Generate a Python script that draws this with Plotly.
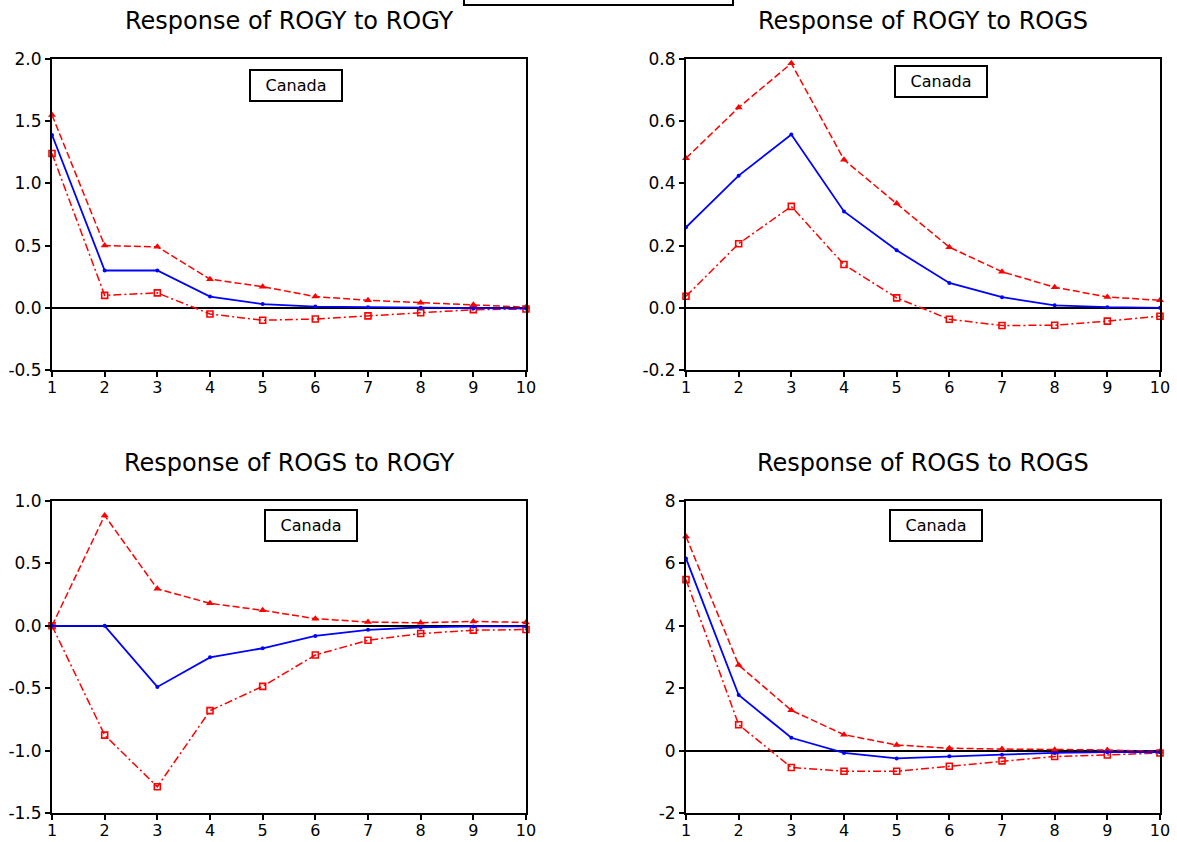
import plotly.graph_objects as go

# Impulse responses (Canada), periods 1..10
periods = list(range(1, 11))

# Response of ROGY to ROGY
rogy_rogy = [1.39, 0.30, 0.30, 0.09, 0.03, 0.01, 0.005, 0.0, -0.005, -0.005]
rogy_rogy_hi = [1.55, 0.50, 0.49, 0.23, 0.17, 0.09, 0.06, 0.04, 0.025, 0.005]
rogy_rogy_lo = [1.24, 0.10, 0.12, -0.05, -0.10, -0.09, -0.065, -0.04, -0.015, -0.01]

# Response of ROGY to ROGS
rogy_rogs = [0.259, 0.425, 0.557, 0.31, 0.185, 0.08, 0.034, 0.008, 0.002, 0.0]
rogy_rogs_hi = [0.481, 0.644, 0.786, 0.476, 0.335, 0.195, 0.116, 0.066, 0.035, 0.024]
rogy_rogs_lo = [0.037, 0.206, 0.326, 0.139, 0.032, -0.037, -0.057, -0.056, -0.043, -0.027]

# Response of ROGS to ROGY
rogs_rogy = [0.0, 0.0, -0.49, -0.253, -0.18, -0.081, -0.032, -0.013, -0.005, -0.005]
rogs_rogy_hi = [0.0, 0.884, 0.296, 0.18, 0.124, 0.057, 0.03, 0.024, 0.035, 0.027]
rogs_rogy_lo = [0.0, -0.876, -1.29, -0.68, -0.485, -0.234, -0.116, -0.062, -0.035, -0.03]

# Response of ROGS to ROGS
rogs_rogs = [6.16, 1.78, 0.41, -0.075, -0.25, -0.18, -0.13, -0.075, -0.05, -0.05]
rogs_rogs_hi = [6.86, 2.74, 1.29, 0.51, 0.18, 0.075, 0.05, 0.03, 0.02, -0.03]
rogs_rogs_lo = [5.48, 0.83, -0.54, -0.66, -0.66, -0.50, -0.33, -0.19, -0.14, -0.075]

titles = ["Response of ROGY to ROGY", "Response of ROGY to ROGS",
          "Response of ROGS to ROGY", "Response of ROGS to ROGS"]
country = "Canada"

y_ticks = [
    [-0.5, 0.0, 0.5, 1.0, 1.5, 2.0],
    [-0.2, 0.0, 0.2, 0.4, 0.6, 0.8],
    [-1.5, -1.0, -0.5, 0.0, 0.5, 1.0],
    [-2, 0, 2, 4, 6, 8],
]
y_tick_text = [
    [f"{v:.1f}" for v in y_ticks[0]],
    [f"{v:.1f}" for v in y_ticks[1]],
    [f"{v:.1f}" for v in y_ticks[2]],
    [f"{v:d}" for v in y_ticks[3]],
]

panels = [
    (rogy_rogy, rogy_rogy_hi, rogy_rogy_lo),
    (rogy_rogs, rogy_rogs_hi, rogy_rogs_lo),
    (rogs_rogy, rogs_rogy_hi, rogs_rogy_lo),
    (rogs_rogs, rogs_rogs_hi, rogs_rogs_lo),
]

W, H = 1177, 842


def px(x, y):
    """Pixel position -> paper coordinates."""
    return x / W, 1 - y / H


FONT = "DejaVu Sans, Verdana, sans-serif"

# Plot areas in pixels: (left, right, top, bottom)
boxes_px = [
    (52, 526, 59, 370),
    (686, 1160, 59, 370),
    (52, 526, 501, 813),
    (686, 1160, 501, 813),
]
# Label box centres in pixels
label_px = [(296, 85), (941, 82), (311, 525), (936, 525)]

fig = go.Figure()
layout = dict(
    width=W, height=H,
    margin=dict(l=0, r=0, t=0, b=0),
    paper_bgcolor="white", plot_bgcolor="white",
    showlegend=False,
    font=dict(family=FONT, color="black", size=16),
    annotations=[], shapes=[],
)

for i, ((mid, hi, lo), (l, r, t, b)) in enumerate(zip(panels, boxes_px)):
    n = i + 1
    xa = "x" if n == 1 else f"x{n}"
    ya = "y" if n == 1 else f"y{n}"
    fig.add_trace(go.Scatter(
        x=periods, y=hi, xaxis=xa, yaxis=ya, mode="lines+markers",
        line=dict(color="#ff0000", width=1.5, dash="7px,3px"),
        marker=dict(symbol="triangle-up", size=7, color="#ff0000"),
        cliponaxis=False))
    fig.add_trace(go.Scatter(
        x=periods, y=lo, xaxis=xa, yaxis=ya, mode="lines+markers",
        line=dict(color="#ff0000", width=1.5, dash="8px,3px,2px,3px"),
        marker=dict(symbol="square-open", size=6, color="#ff0000",
                    line=dict(width=1.6, color="#ff0000")),
        cliponaxis=False))
    fig.add_trace(go.Scatter(
        x=periods, y=mid, xaxis=xa, yaxis=ya, mode="lines+markers",
        line=dict(color="#0000ff", width=1.8),
        marker=dict(symbol="circle", size=4, color="#0000ff"),
        cliponaxis=False))

    x0, y0 = px(l, b)
    x1, y1 = px(r, t)
    xkey = "xaxis" if n == 1 else f"xaxis{n}"
    ykey = "yaxis" if n == 1 else f"yaxis{n}"
    layout[xkey] = dict(
        domain=[x0, x1], anchor=ya, range=[1, 10], automargin=False,
        tickvals=periods, ticktext=[str(p) for p in periods],
        ticks="outside", ticklen=5, tickwidth=2, tickcolor="black",
        ticklabelstandoff=-3,
        showline=True, linecolor="black", linewidth=2, mirror=True,
        showgrid=False, zeroline=False,
        tickfont=dict(family=FONT, size=16, color="black"),
    )
    layout[ykey] = dict(
        domain=[y0, y1], anchor=xa, automargin=False,
        range=[y_ticks[i][0], y_ticks[i][-1]],
        tickvals=y_ticks[i], ticktext=y_tick_text[i],
        ticks="outside", ticklen=5, tickwidth=2, tickcolor="black",
        showline=True, linecolor="black", linewidth=2, mirror=True,
        showgrid=False, zeroline=True, zerolinecolor="black", zerolinewidth=1.5,
        tickfont=dict(family=FONT, size=17, color="black"),
    )

    # Panel title
    tx, ty = px((l + r) / 2, t - 38)
    layout["annotations"].append(dict(
        text=titles[i], xref="paper", yref="paper", x=tx, y=ty,
        xanchor="center", yanchor="middle", showarrow=False,
        font=dict(family=FONT, size=24, color="black"),
    ))
    # Country label box
    cx, cy = px(*label_px[i])
    layout["annotations"].append(dict(
        text=country, xref="paper", yref="paper", x=cx, y=cy,
        xanchor="center", yanchor="middle",
        showarrow=False, width=86, height=25, borderpad=2,
        bordercolor="black", borderwidth=2, bgcolor="white",
        font=dict(family=FONT, size=16, color="black"),
    ))

# Header frame at the top centre, cut by the top edge
hx0, hy0 = px(464, 5)
hx1, _ = px(733, 0)
layout["shapes"].append(dict(
    type="rect", xref="paper", yref="paper",
    x0=hx0, x1=hx1, y0=hy0, y1=1.05,
    line=dict(color="black", width=2), fillcolor="white",
))

fig.update_layout(**layout)
fig.write_html("out.html")
